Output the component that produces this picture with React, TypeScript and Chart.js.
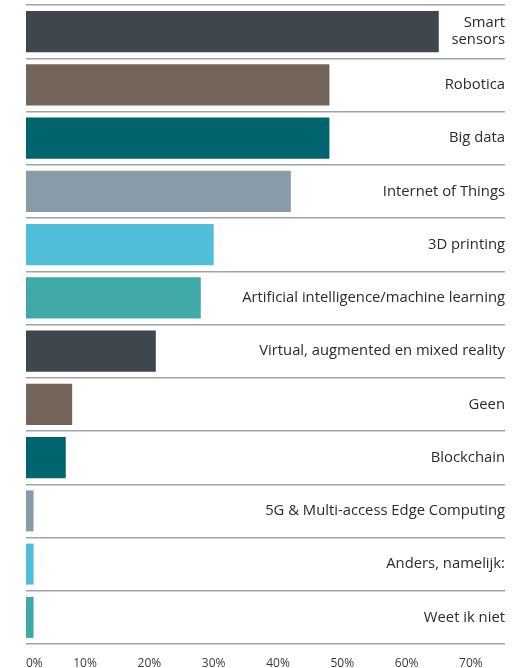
import React, { useEffect, useRef } from 'react';
import { Chart, registerables } from 'chart.js';

Chart.register(...registerables);

const CATEGORIES: (string | string[])[] = [
  ['Smart', 'sensors'],
  'Robotica',
  'Big data',
  'Internet of Things',
  '3D printing',
  'Artificial intelligence/machine learning',
  'Virtual, augmented en mixed reality',
  'Geen',
  'Blockchain',
  '5G & Multi-access Edge Computing',
  'Anders, namelijk:',
  'Weet ik niet',
];

const VALUES = [65, 48, 48, 42, 30, 28, 21, 8, 7, 2, 2, 2];

const BAR_COLORS = [
  '#3e464e', '#736559', '#00646e', '#899ba9', '#50bdd9', '#41aaa9',
  '#3e464e', '#736559', '#00646e', '#899ba9', '#50bdd9', '#41aaa9',
];

const X_TICK_VALUES = [0, 10, 20, 30, 40, 50, 60, 70];
const X_TICK_LABELS = ['0%', '10%', '20%', '30%', '40%', '50%', '60%', '70%'];

const FONT = '"Open Sans", "Noto Sans", sans-serif';

export default function App() {
  const ref = useRef<HTMLCanvasElement | null>(null);

  useEffect(() => {
    if (!ref.current) return;
    const chart = new Chart(ref.current, {
      type: 'bar',
      data: {
        labels: CATEGORIES as any,
        datasets: [
          {
            data: VALUES,
            backgroundColor: BAR_COLORS,
            borderWidth: 0,
            barPercentage: 0.77,
            categoryPercentage: 1,
          },
        ],
      },
      options: {
        indexAxis: 'y',
        animation: false,
        responsive: false,
        layout: { padding: { left: 26, right: 16, top: 5, bottom: 0 } },
        plugins: { legend: { display: false }, tooltip: { enabled: false } },
        scales: {
          x: {
            type: 'linear',
            min: 0.82,
            max: 75.3,
            grid: { display: false },
            border: { display: false },
            afterBuildTicks: (scale: any) => {
              scale.ticks = [
                { value: scale.min },
                ...X_TICK_VALUES.slice(1).map((v) => ({ value: v })),
                { value: scale.max },
              ];
            },
            afterFit: (scale: any) => {
              scale.height = 24;
              scale.paddingLeft = 0;
              scale.paddingRight = 0;
            },
            ticks: {
              autoSkip: false,
              maxRotation: 0,
              align: 'inner',
              padding: 4,
              color: '#3a3a3a',
              font: { family: FONT, size: 12 },
              callback: (_v: any, i: number) => (i < X_TICK_LABELS.length ? X_TICK_LABELS[i] : ''),
            },
          },
          y: {
            type: 'category',
            position: 'right',
            grid: { offset: true, color: '#a3a3a3', lineWidth: 1.5, drawTicks: false },
            border: { display: false },
            afterFit: (scale: any) => {
              scale.paddingTop = 0;
              scale.paddingBottom = 0;
            },
            ticks: {
              mirror: true,
              padding: 0,
              color: '#2b2b2b',
              font: { family: FONT, size: 14.8, lineHeight: 1.15 },
            },
          },
        },
      },
    });
    return () => chart.destroy();
  }, []);

  return (
    <div style={{ position: 'absolute', left: 0, top: 0, width: 521, height: 668 }}>
      <canvas ref={ref} width={521} height={668} />
    </div>
  );
}
